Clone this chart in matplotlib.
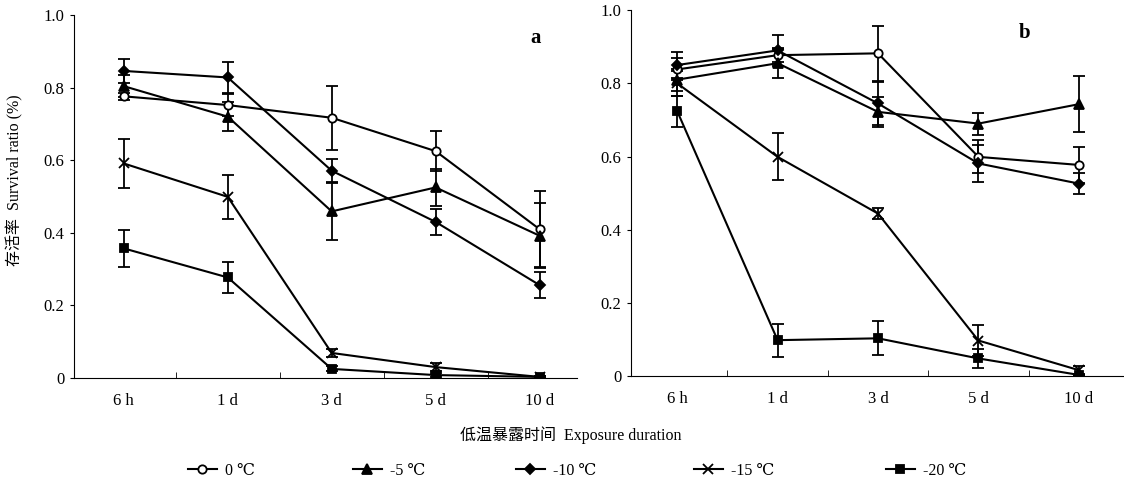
import numpy as np
import matplotlib
matplotlib.use('Agg')
import matplotlib.pyplot as plt

plt.rcParams['font.family'] = ['Liberation Serif', 'DejaVu Serif', 'Noto Sans CJK SC']

durations = ['6 h', '1 d', '3 d', '5 d', '10 d']
temps = ['0 ℃', '-5 ℃', '-10 ℃', '-15 ℃', '-20 ℃']

# panel a
a_0 = [0.776, 0.752, 0.717, 0.625, 0.410]
a_5 = [0.804, 0.720, 0.459, 0.525, 0.392]
a_10 = [0.846, 0.828, 0.571, 0.430, 0.256]
a_15 = [0.591, 0.499, 0.069, 0.030, 0.003]
a_20 = [0.357, 0.277, 0.025, 0.008, 0.003]
a_0_err = [0.010, 0.030, 0.088, 0.055, 0.105]
a_5_err = [0.030, 0.040, 0.080, 0.050, 0.090]
a_10_err = [0.034, 0.043, 0.033, 0.035, 0.035]
a_15_err = [0.067, 0.060, 0.010, 0.010, 0.002]
a_20_err = [0.050, 0.042, 0.007, 0.005, 0.002]

# panel b
b_0 = [0.838, 0.877, 0.882, 0.599, 0.577]
b_5 = [0.810, 0.855, 0.722, 0.690, 0.743]
b_10 = [0.850, 0.890, 0.745, 0.581, 0.526]
b_15 = [0.800, 0.599, 0.444, 0.097, 0.016]
b_20 = [0.724, 0.098, 0.103, 0.048, 0.003]
b_0_err = [0.030, 0.020, 0.075, 0.045, 0.050]
b_5_err = [0.030, 0.040, 0.040, 0.030, 0.077]
b_10_err = [0.035, 0.043, 0.060, 0.050, 0.028]
b_15_err = [0.035, 0.064, 0.015, 0.043, 0.012]
b_20_err = [0.042, 0.045, 0.046, 0.025, 0.003]

styles = [('o', 'white', 6), ('^', 'black', 6.5), ('D', 'black', 5), ('x', 'black', 6.5), ('s', 'black', 5.5)]

fig = plt.figure(figsize=(11.24, 4.82), dpi=100)
ax1 = fig.add_axes([0.0658, 0.2158, 0.4475, 0.753])
ax2 = fig.add_axes([0.5614, 0.2199, 0.4386, 0.759])

x = np.arange(len(durations))


def draw_panel(ax, series, errs, letter, lx, xlim):
    handles = []
    for (m, fc, ms), y, e in zip(styles, series, errs):
        h = ax.errorbar(x, y, yerr=e, color='black', marker=m, mfc=fc, mec='black',
                        ms=ms, mew=1.3, lw=1.5, elinewidth=1.3, capsize=4, capthick=1.3)
        handles.append(h[0])
    ax.set_xlim(xlim)
    ax.set_ylim(0, 1.0)
    ax.spines['top'].set_visible(False)
    ax.spines['right'].set_visible(False)
    ax.set_xticks(x)
    ax.set_xticklabels(durations, fontsize=12)
    ax.set_xticks(x[:-1] + 0.5, minor=True)
    ax.tick_params(axis='x', which='major', length=0, pad=11)
    ax.tick_params(axis='x', which='minor', direction='in', length=4)
    ax.set_yticks([0, 0.2, 0.4, 0.6, 0.8, 1.0])
    ax.set_yticklabels(['0', '0.2', '0.4', '0.6', '0.8', '1.0'], fontsize=12)
    ax.tick_params(axis='y', direction='out', length=3, pad=4)
    ax.text(lx, 0.937, letter, transform=ax.transAxes, fontsize=15, fontweight='bold',
            ha='center', va='center')
    return handles


handles = draw_panel(ax1, [a_0, a_5, a_10, a_15, a_20],
                     [a_0_err, a_5_err, a_10_err, a_15_err, a_20_err], 'a', 0.917, (-0.48, 4.36))
draw_panel(ax2, [b_0, b_5, b_10, b_15, b_20],
           [b_0_err, b_5_err, b_10_err, b_15_err, b_20_err], 'b', 0.799, (-0.46, 4.45))

fig.text(15 / 1124, 1 - 180 / 482, '存活率  Survival ratio (%)', rotation=90,
         ha='center', va='center', fontsize=11.5)
fig.text(571 / 1124, 1 - 435 / 482, '低温暴露时间  Exposure duration',
         ha='center', va='center', fontsize=11.5)

# legend entries laid out in one row under the x label
legend_x = [180, 345, 508, 686, 878]
for h, lab, lx in zip(handles, temps, legend_x):
    fig.legend(handles=[h], labels=[lab], loc='center left', bbox_to_anchor=(lx / 1124, 1 - 471 / 482),
               frameon=False, fontsize=11.5, handlelength=1.8, handletextpad=0.5, borderpad=0)

plt.savefig('out.png', dpi=100)
